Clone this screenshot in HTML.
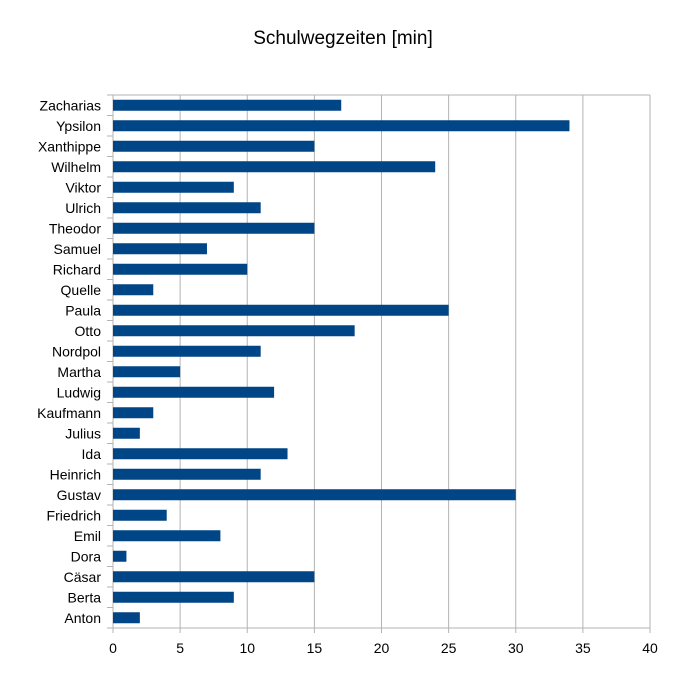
<!DOCTYPE html>
<html><head><meta charset="utf-8"><style>
body{margin:0;background:#fff;}
svg text{font-family:"Liberation Sans",Arial,sans-serif;}
</style></head><body>
<svg width="687" height="687" viewBox="0 0 687 687">
<text x="343" y="44" text-anchor="middle" font-size="19" fill="#000">Schulwegzeiten [min]</text>
<g id="grid"></g><g id="bars"></g><g id="axes"></g>
</svg>
<script>
const categories=["Zacharias","Ypsilon","Xanthippe","Wilhelm","Viktor","Ulrich","Theodor","Samuel","Richard","Quelle","Paula","Otto","Nordpol","Martha","Ludwig","Kaufmann","Julius","Ida","Heinrich","Gustav","Friedrich","Emil","Dora","Cäsar","Berta","Anton"];
const values=[17,34,15,24,9,11,15,7,10,3,25,18,11,5,12,3,2,13,11,30,4,8,1,15,9,2];
const ticks=[0,5,10,15,20,25,30,35,40];
const L=113,R=650,T=95,B=628,xmax=40;
const x=v=>L+(R-L)*v/xmax;
const band=(B-T)/categories.length;
const y=i=>T+band*i;
const NS="http://www.w3.org/2000/svg";
function mk(tag,attrs,parent){const e=document.createElementNS(NS,tag);for(const k in attrs)e.setAttribute(k,attrs[k]);document.getElementById(parent).appendChild(e);return e;}
ticks.forEach(t=>{
 const g=mk('line',{x1:x(t),x2:x(t),y1:T,y2:B+5,stroke:'#b3b3b3','stroke-width':1},'grid');
 
 
 const tx=mk('text',{x:x(t),y:B+25,'text-anchor':'middle','font-size':14,fill:'#000'},'axes');
 tx.textContent=t;
 
 
});
const topLine=mk('line',{x1:L,x2:R,y1:T,y2:T,stroke:'#b3b3b3'},'grid');


const botLine=mk('line',{x1:L,x2:R,y1:B,y2:B,stroke:'#b3b3b3'},'grid');


const yLine=mk('line',{x1:L,x2:L,y1:T,y2:B,stroke:'#b3b3b3'},'grid');


for(let i=0;i<=categories.length;i++){
 const tk=mk('line',{x1:L-6,x2:L,y1:y(i),y2:y(i),stroke:'#b3b3b3'},'grid');
 
 
}
categories.forEach((c,i)=>{
 const cy=y(i)+band/2;
 const r=mk('rect',{x:L,y:cy-5.5,width:x(values[i])-L,height:11,fill:'#004586'},'bars');
 
 
 const t=mk('text',{x:101,y:cy+5,'text-anchor':'end','font-size':14,fill:'#000'},'axes');
 t.textContent=c;
 
 
});
</script>
</body></html>
